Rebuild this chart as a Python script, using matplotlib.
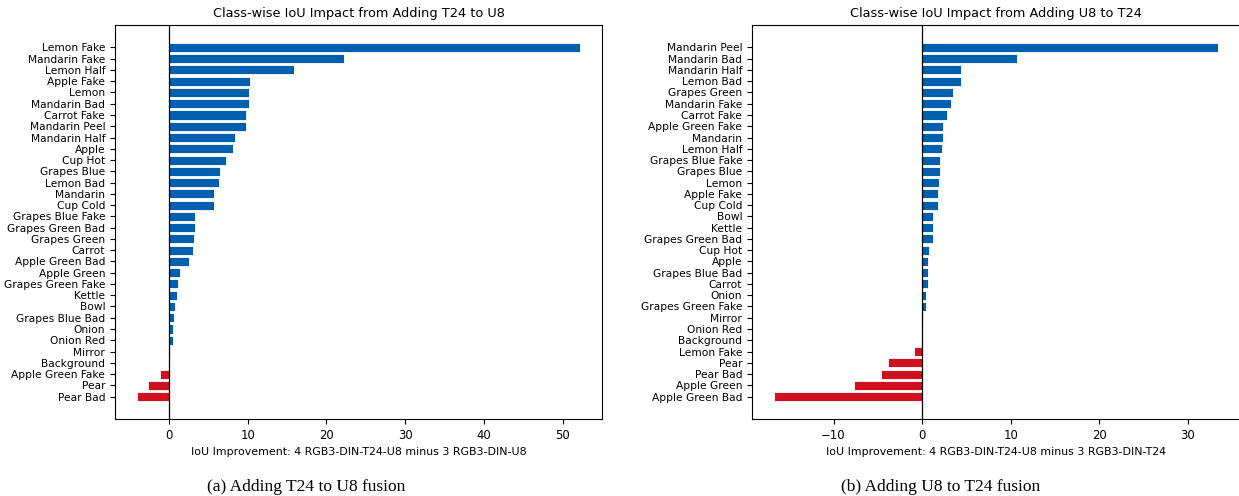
import matplotlib.pyplot as plt
import numpy as np

# Panel (a): adding T24 to U8
classes_a = ["Lemon Fake", "Mandarin Fake", "Lemon Half", "Apple Fake", "Lemon",
             "Mandarin Bad", "Carrot Fake", "Mandarin Peel", "Mandarin Half", "Apple",
             "Cup Hot", "Grapes Blue", "Lemon Bad", "Mandarin", "Cup Cold",
             "Grapes Blue Fake", "Grapes Green Bad", "Grapes Green", "Carrot",
             "Apple Green Bad", "Apple Green", "Grapes Green Fake", "Kettle", "Bowl",
             "Grapes Blue Bad", "Onion", "Onion Red", "Mirror", "Background",
             "Apple Green Fake", "Pear", "Pear Bad"]
delta_a = [52.2, 22.2, 15.9, 10.3, 10.2, 10.1, 9.8, 9.75, 8.4, 8.1,
           7.2, 6.5, 6.3, 5.7, 5.7, 3.25, 3.25, 3.15, 3.0, 2.5,
           1.35, 1.1, 1.0, 0.8, 0.6, 0.5, 0.5, 0.1, 0.0, -1.2,
           -2.65, -4.05]

# Panel (b): adding U8 to T24
classes_b = ["Mandarin Peel", "Mandarin Bad", "Mandarin Half", "Lemon Bad",
             "Grapes Green", "Mandarin Fake", "Carrot Fake", "Apple Green Fake",
             "Mandarin", "Lemon Half", "Grapes Blue Fake", "Grapes Blue", "Lemon",
             "Apple Fake", "Cup Cold", "Bowl", "Kettle", "Grapes Green Bad", "Cup Hot",
             "Apple", "Grapes Blue Bad", "Carrot", "Onion", "Grapes Green Fake",
             "Mirror", "Onion Red", "Background", "Lemon Fake", "Pear", "Pear Bad",
             "Apple Green", "Apple Green Bad"]
delta_b = [33.4, 10.75, 4.4, 4.4, 3.5, 3.3, 2.85, 2.4, 2.4, 2.2,
           2.0, 2.0, 1.9, 1.8, 1.75, 1.25, 1.2, 1.2, 0.75, 0.7,
           0.7, 0.7, 0.4, 0.4, 0.08, 0.0, 0.0, -0.95, -3.85, -4.65,
           -7.7, -16.7]

titles = ["Class-wise IoU Impact from Adding T24 to U8",
          "Class-wise IoU Impact from Adding U8 to T24"]
xlabels = ["IoU Improvement: 4 RGB3-DIN-T24-U8 minus 3 RGB3-DIN-U8",
           "IoU Improvement: 4 RGB3-DIN-T24-U8 minus 3 RGB3-DIN-T24"]
captions = ["(a) Adding T24 to U8 fusion", "(b) Adding U8 to T24 fusion"]

BLUE = "#0060ad"
RED = "#d0101f"

fig = plt.figure(figsize=(12.39, 4.96), dpi=100)
W, H = 1239, 496
ax_a = fig.add_axes([115 / W, 1 - 419 / H, 487 / W, 394 / H])
ax_b = fig.add_axes([752 / W, 1 - 419 / H, 488 / W, 394 / H])

panels = [(ax_a, classes_a, delta_a), (ax_b, classes_b, delta_b)]
for i, (ax, names, vals) in enumerate(panels):
    vals = np.array(vals)
    colors = [BLUE if v >= 0 else RED for v in vals]
    y = np.arange(len(names))
    ax.barh(y, vals, color=colors, edgecolor="white", linewidth=0.6)
    ax.axvline(0, color="black", linewidth=0.9)
    ax.set_yticks(y)
    ax.set_yticklabels(names, fontsize=7.7)
    ax.invert_yaxis()
    ax.tick_params(axis="x", labelsize=8.4)
    ax.set_title(titles[i], fontsize=9.3)
    ax.set_xlabel(xlabels[i], fontsize=7.9)

fig.text(306 / W, 9 / H, captions[0], ha="center", va="center",
         family="Liberation Serif", fontsize=12.5)
fig.text(941 / W, 9 / H, captions[1], ha="center", va="center",
         family="Liberation Serif", fontsize=12.5)

fig.savefig("out.png", dpi=100)
